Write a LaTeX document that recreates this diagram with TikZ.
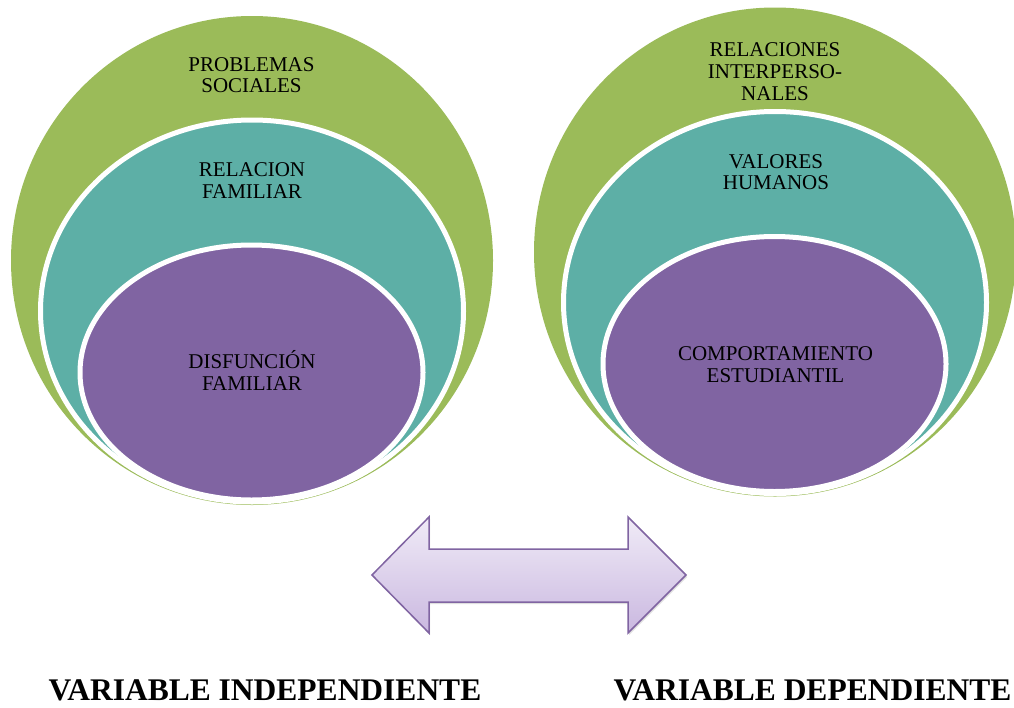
\documentclass[tikz,border=0pt]{standalone}
\usepackage{fontspec}
\setmainfont{Liberation Serif}
\usetikzlibrary{shadows}
\definecolor{cgreen}{HTML}{9BBB59}
\definecolor{cteal}{HTML}{5DAFA6}
\definecolor{cpurple}{HTML}{8064A2}
\definecolor{arrtop}{HTML}{F0EBF7}
\definecolor{arrbot}{HTML}{CAB8E0}
\begin{document}
\begin{tikzpicture}[x=1pt,y=-1pt,
  outerring/.style={fill=cgreen},
  middlering/.style={fill=cteal, draw=white, line width=5pt},
  innerring/.style={fill=cpurple, draw=white, line width=5pt},
  lbl/.style={align=center, inner sep=0pt, font=\fontsize{21}{21.7}\selectfont, text=black},
  vtitle/.style={anchor=base, inner sep=0pt, font=\fontsize{31.5}{36}\selectfont\bfseries, text=black},
  dblarrow/.style={draw=cpurple, line width=1.5pt, top color=arrtop, bottom color=arrbot, line join=miter,
    drop shadow={opacity=0.25, shadow xshift=1pt, shadow yshift=-2pt}}]
\useasboundingbox (0,0) rectangle (1014,707);

% left nested target
\begin{scope}
  \path[outerring] (252,260.5) ellipse [x radius=241, y radius=244.5];
  \path[middlering] (252,311) ellipse [x radius=211.5, y radius=191];
  \path[innerring] (251.5,372.5) ellipse [x radius=171.5, y radius=127.5];
\end{scope}
% right nested target
\begin{scope}[shift={(523,-8.5)}]
  \path[outerring] (252,260.5) ellipse [x radius=241, y radius=244.5];
  \path[middlering] (252,311) ellipse [x radius=211.5, y radius=191];
  \path[innerring] (251.5,372.5) ellipse [x radius=171.5, y radius=127.5];
\end{scope}

% labels
\node[lbl] (ps) at (251.5,75.2) {PROBLEMAS\\SOCIALES};
\node[lbl] (rf) at (252,180.5) {RELACION\\FAMILIAR};
\node[lbl] (df) at (252,370.5) {DISFUNCIÓN\\FAMILIAR};
\node[lbl] (ri) at (775,71.7) {RELACIONES\\INTERPERSO-\\NALES};
\node[lbl] (vh) at (776,172.2) {VALORES\\HUMANOS};
\node[lbl] (ce) at (775.5,364.8) {COMPORTAMIENTO\\ESTUDIANTIL};

% double arrow
\draw[dblarrow] (372,575) -- (429,517) -- (429,549) -- (628,549) -- (628,517)
  -- (686,575) -- (628,633) -- (628,602) -- (429,602) -- (429,633) -- cycle;

% titles
\node[vtitle] (vi) at (265,700) {VARIABLE INDEPENDIENTE};
\node[vtitle] (vd) at (812.5,700) {VARIABLE DEPENDIENTE};
\end{tikzpicture}
\end{document}
